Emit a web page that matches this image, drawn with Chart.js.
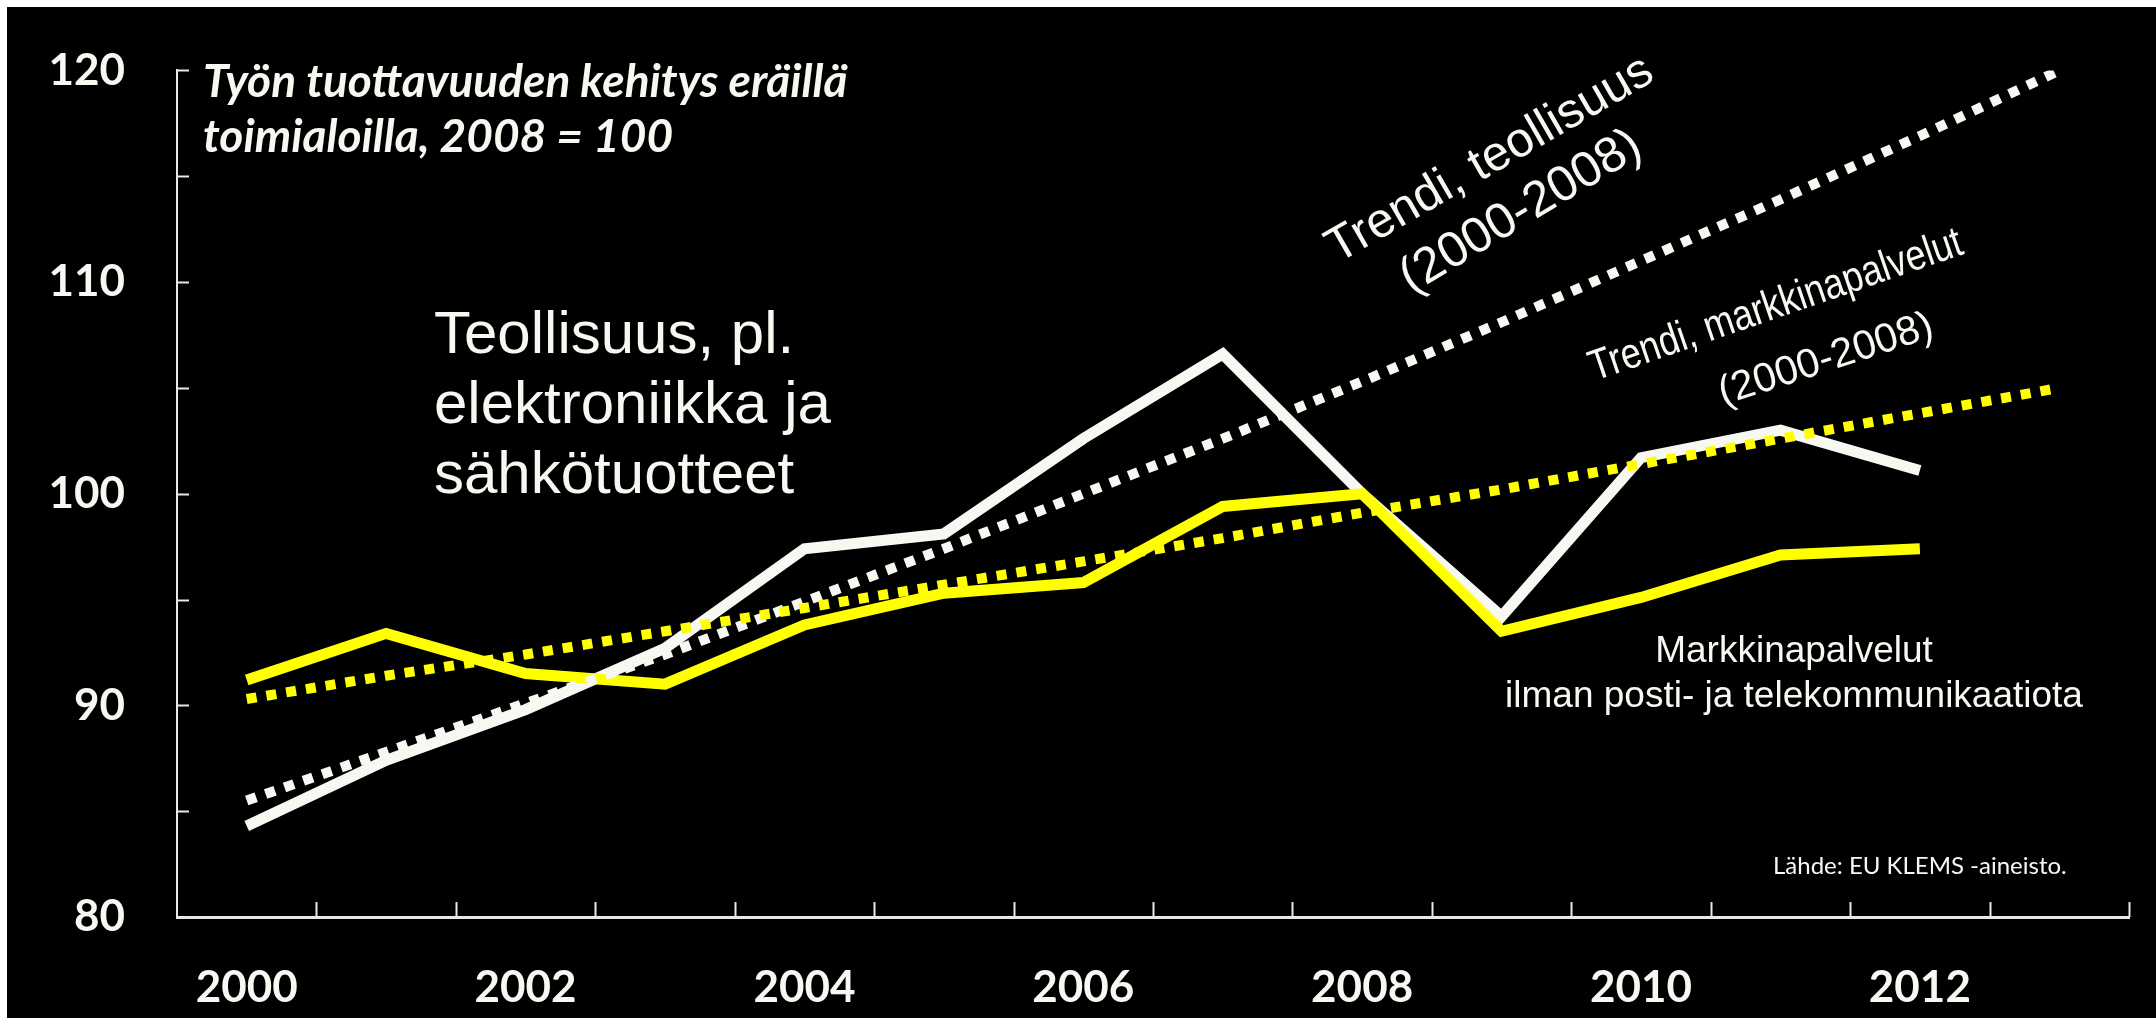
<!DOCTYPE html>
<html>
<head>
<meta charset="utf-8">
<script src="https://cdn.jsdelivr.net/npm/chart.js@4"></script>
<style>
  html, body { margin: 0; padding: 0; background: #000; }
  #wrap { position: relative; width: 2156px; height: 1018px; }
  .edge { position: absolute; background: #fff; }
</style>
</head>
<body>
<div id="wrap">
  <canvas id="tuottavuus-chart"></canvas>
  <div class="edge" style="left:0;top:0;width:2156px;height:7px"></div>
  <div class="edge" style="left:0;top:0;width:7px;height:1018px"></div>
</div>
<script>
var years = ["2000", "2001", "2002", "2003", "2004", "2005", "2006", "2007", "2008", "2009", "2010", "2011", "2012", "2013"];
var teollisuus = [84.3, 87.4, 89.8, 92.7, 97.4, 98.1, 102.6, 106.6, 100.0, 94.2, 101.7, 103.0, 101.1, null];
var markkinapalvelut = [91.2, 93.4, 91.5, 91.0, 93.8, 95.3, 95.8, 99.4, 100.0, 93.5, 95.1, 97.1, 97.4, null];
var trendiTeollisuus = [85.5, 87.8, 90.1, 92.4, 94.9, 97.4, 100.0, 102.6, 105.3, 108.1, 111.0, 113.9, 116.9, 120.0];
var trendiMarkkina = [90.3, 91.4, 92.4, 93.5, 94.6, 95.7, 96.8, 97.9, 99.1, 100.2, 101.4, 102.6, 103.8, 105.0];
var yTicks = [80, 90, 100, 110, 120];

(function () {
    var WHITE = "#F8F8F2",
        YELLOW = "#FFFF00",
        AXIS = "#E8E8E8";

    // pienet sisäänpäin osoittavat tikit molemmille akseleille
    var innerTicks = {
        id: "innerTicks",
        afterDraw: function (chart) {
            var ctx = chart.ctx,
                area = chart.chartArea,
                xs = chart.scales.x,
                ys = chart.scales.y;
            ctx.save();
            ctx.strokeStyle = AXIS;
            ctx.lineWidth = 2;
            ctx.beginPath();
            ys.ticks.forEach(function (t) {
                var py = Math.round(ys.getPixelForValue(t.value)) + 0.5;
                ctx.moveTo(area.left, py);
                ctx.lineTo(area.left + 12, py);
            });
            var n = xs.ticks.length,
                step = xs.width / n;
            for (var i = 1; i <= n; i++) {
                var px = Math.round(xs.left + i * step) + 0.5;
                ctx.moveTo(px, area.bottom);
                ctx.lineTo(px, area.bottom - 15);
            }
            ctx.stroke();
            ctx.restore();
        }
    };

    function rotated(ctx, text, cx, cy, angle, font, sx) {
        ctx.save();
        ctx.translate(cx, cy);
        ctx.rotate(angle * Math.PI / 180);
        ctx.scale(sx || 1, 1);
        ctx.font = font;
        ctx.textAlign = "center";
        ctx.textBaseline = "middle";
        ctx.fillText(text, 0, 0);
        ctx.restore();
    }

    var texts = {
        id: "texts",
        afterDraw: function (chart) {
            var ctx = chart.ctx;
            ctx.save();
            ctx.fillStyle = WHITE;
            ctx.textBaseline = "alphabetic";
            ctx.textAlign = "left";

            ctx.font = "italic bold 46px Lato";
            ctx.fillText("Työn tuottavuuden kehitys eräillä", 203, 97);
            ctx.fillText("toimialoilla, 2008 = 100", 203, 152);

            ctx.font = "60px 'Liberation Sans'";
            ctx.fillText("Teollisuus, pl.", 434, 353);
            ctx.fillText("elektroniikka ja", 434, 423);
            ctx.fillText("sähkötuotteet", 434, 493);

            ctx.textAlign = "center";
            ctx.font = "37px 'Liberation Sans'";
            ctx.fillText("Markkinapalvelut", 1794, 662);
            ctx.fillText("ilman posti- ja telekommunikaatiota", 1794, 707);

            ctx.textAlign = "left";
            ctx.font = "24px Lato";
            ctx.fillText("Lähde: EU KLEMS -aineisto.", 1773, 874);
            ctx.restore();

            ctx.fillStyle = WHITE;
            rotated(ctx, "Trendi, teollisuus", 1490, 160, -30, "49px 'Liberation Sans'");
            rotated(ctx, "(2000-2008)", 1521, 212, -31, "50px 'Liberation Sans'");
            rotated(ctx, "Trendi, markkinapalvelut", 1776, 306, -19, "43px 'Liberation Sans'", 0.84);
            rotated(ctx, "(2000-2008)", 1826, 360, -18, "41px 'Liberation Sans'");
        }
    };

    var canvas = document.getElementById("tuottavuus-chart");

    new Chart(canvas, {
        type: "line",
        data: {
            labels: years,
            datasets: [
                {
                    label: "Trendi, markkinapalvelut (2000-2008)",
                    data: trendiMarkkina,
                    borderColor: YELLOW,
                    borderWidth: 10,
                    borderDash: [10, 10],
                    order: 0
                },
                {
                    label: "Trendi, teollisuus (2000-2008)",
                    data: trendiTeollisuus,
                    borderColor: WHITE,
                    borderWidth: 10,
                    borderDash: [10, 10],
                    order: 1
                },
                {
                    label: "Markkinapalvelut ilman posti- ja telekommunikaatiota",
                    data: markkinapalvelut,
                    borderColor: YELLOW,
                    borderWidth: 11,
                    order: 2
                },
                {
                    label: "Teollisuus, pl. elektroniikka ja sähkötuotteet",
                    data: teollisuus,
                    borderColor: WHITE,
                    borderWidth: 11,
                    order: 3
                }
            ]
        },
        options: {
            responsive: true,
            maintainAspectRatio: false,
            animation: false,
            layout: { padding: { left: 0, top: 63, right: 27, bottom: 0 } },
            elements: {
                point: { radius: 0 },
                line: { tension: 0, borderJoinStyle: "miter", borderCapStyle: "butt", fill: false }
            },
            plugins: {
                legend: { display: false },
                tooltip: { enabled: false }
            },
            scales: {
                x: {
                    offset: true,
                    grid: { display: false, offset: true },
                    border: { display: true, color: AXIS, width: 3 },
                    ticks: {
                        autoSkip: false,
                        maxRotation: 0,
                        padding: 36,
                        color: WHITE,
                        font: { family: "Lato", weight: "bold", size: 44 },
                        callback: function (v, i) {
                            return i % 2 === 0 ? years[i] : "";
                        }
                    },
                    afterFit: function (s) { s.height = 101; }
                },
                y: {
                    min: 80,
                    max: 120,
                    grid: { display: false },
                    border: { display: true, color: AXIS, width: 2 },
                    ticks: {
                        stepSize: 5,
                        padding: 44,
                        color: WHITE,
                        font: { family: "Lato", weight: "bold", size: 44 },
                        callback: function (v) {
                            return yTicks.indexOf(v) >= 0 ? String(v) : "";
                        }
                    },
                    afterFit: function (s) { s.width = 177; }
                }
            }
        },
        plugins: [innerTicks, texts]
    });
})();
</script>
</body>
</html>
